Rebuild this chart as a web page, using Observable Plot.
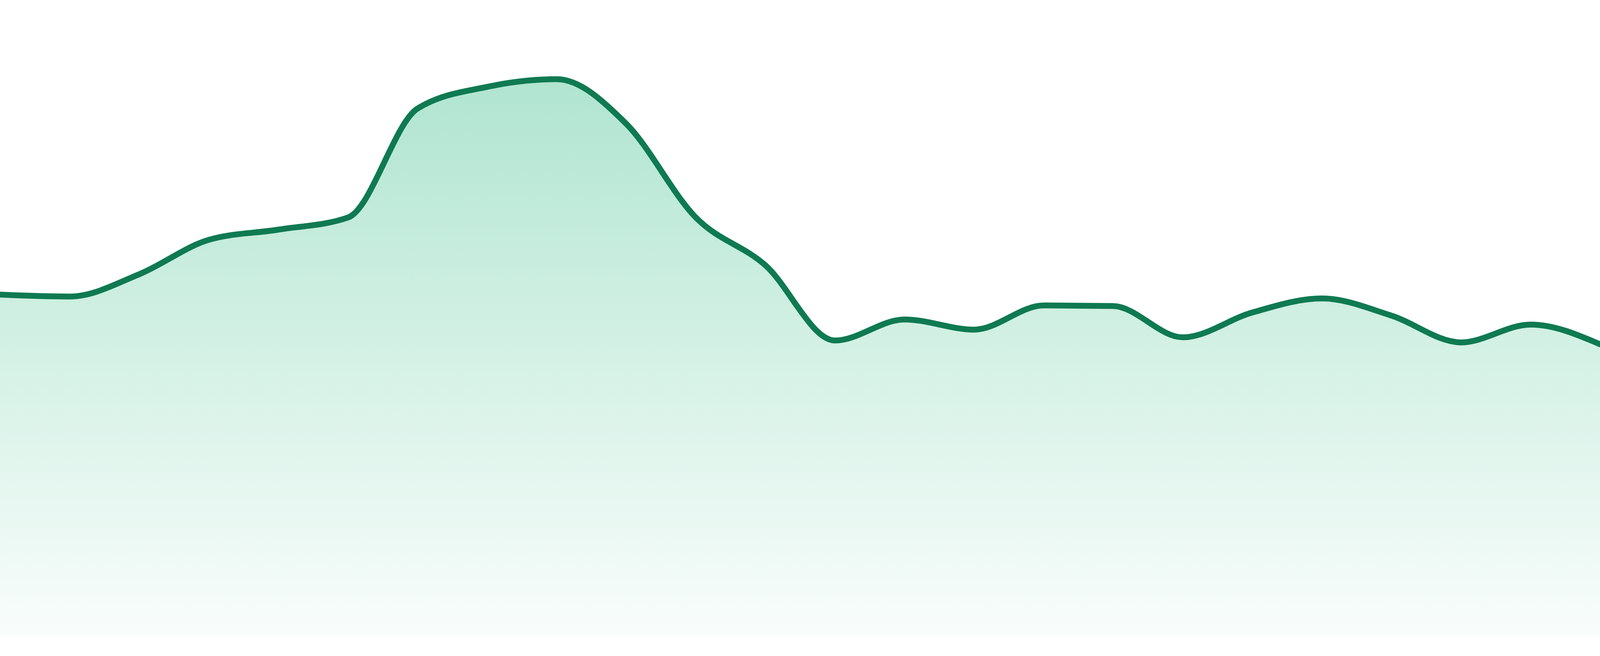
<!DOCTYPE html>
<html>
<head>
<meta charset="utf-8">
<script src="https://cdn.jsdelivr.net/npm/d3@7"></script>
<script src="https://cdn.jsdelivr.net/npm/@observablehq/plot@0.6"></script>
<style>
  html, body { margin: 0; padding: 0; background: #ffffff; overflow: hidden; }
  #chart svg { display: block; }
</style>
</head>
<body>
<div id="chart"></div>
<script>
// 24 evenly spaced observations
const steps = d3.range(24);
const values = [
  53.8, 53.5, 57.0, 62.4, 64.0, 65.9, 83.0, 86.4, 87.6, 80.6, 65.9, 58.4,
  46.6, 49.9, 48.3, 52.1, 52.0, 47.1, 51.0, 53.2, 50.5, 46.3, 49.1, 46.0
];
const data = steps.map((i) => ({ step: i, value: values[i] }));

const gradientDefs = () => {
  const ns = "http://www.w3.org/2000/svg";
  const defs = document.createElementNS(ns, "defs");
  const grad = document.createElementNS(ns, "linearGradient");
  grad.setAttribute("id", "areaGradient");
  grad.setAttribute("x1", "0"); grad.setAttribute("y1", "0");
  grad.setAttribute("x2", "0"); grad.setAttribute("y2", "1");
  for (const [offset, color] of [["0%", "#b0e5d0"], ["100%", "#f9fdfb"]]) {
    const s = document.createElementNS(ns, "stop");
    s.setAttribute("offset", offset);
    s.setAttribute("stop-color", color);
    grad.appendChild(s);
  }
  defs.appendChild(grad);
  return defs;
};

// fill the whole browser window (the reference chart spans it edge to edge)
const W = window.innerWidth || 4800;
const H = 1680;

const chart = Plot.plot({
  width: W,
  height: H,
  marginTop: 0,
  marginBottom: 48,
  marginLeft: 0,
  marginRight: 0,
  style: { background: "#ffffff" },
  x: { domain: [0, 23], axis: null },
  y: { domain: [0, 100], axis: null },
  marks: [
    gradientDefs,
    Plot.areaY(data, { x: "step", y: "value", curve: "monotone-x", fill: "url(#areaGradient)" }),
    Plot.line(data, { x: "step", y: "value", curve: "monotone-x", stroke: "#0f7a52", strokeWidth: 15 })
  ]
});
document.getElementById("chart").appendChild(chart);
</script>
</body>
</html>
